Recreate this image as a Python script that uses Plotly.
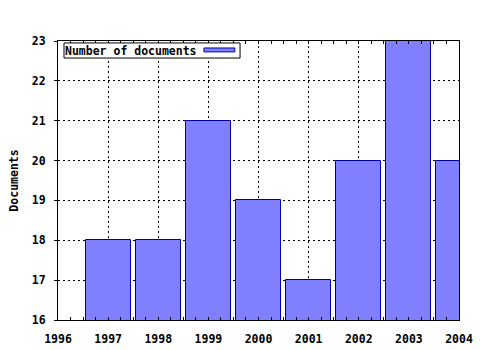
import plotly.graph_objects as go

years = [1997, 1998, 1999, 2000, 2001, 2002, 2003, 2004]
documents = [18, 18, 21, 19, 17, 20, 23, 20]
series_name = "Number of documents"

FAM = "DejaVu Sans Mono"
bold = dict(family=FAM, size=11.5, color="black", weight="bold")

fig = go.Figure()
fig.add_trace(go.Bar(
    x=years, y=documents, width=0.9,
    name=series_name,
    marker=dict(color="#8080ff", line=dict(color="#0000a0", width=1)),
    showlegend=False,
))

grid = dict(showgrid=True, gridcolor="black", griddash="2px,3px", gridwidth=1,
            zeroline=False, showline=True, linecolor="black", linewidth=1,
            tickcolor="black", tickfont=bold, automargin=False)

fig.update_xaxes(range=[1996, 2004], dtick=1, tick0=1996, tickformat="d",
                 mirror="ticks", ticks="inside", ticklen=3,
                 ticklabelstandoff=8,
                 minor=dict(ticks="inside", dtick=0.25, ticklen=3, tickcolor="black", showgrid=False),
                 **grid)
fig.update_yaxes(range=[16, 23], dtick=1,
                 mirror=True, ticks="outside", ticklen=3,
                 ticklabelstandoff=6,
                 title=dict(text="Documents", font=bold, standoff=10),
                 **grid)

# legend box (text then sample, gnuplot style)
fig.add_shape(type="rect", xref="paper", yref="paper", layer="above",
              x0=0.015, x1=0.454, y0=0.939, y1=0.993,
              fillcolor="white", line=dict(color="black", width=1))
fig.add_shape(type="rect", xref="paper", yref="paper", layer="above",
              x0=0.364, x1=0.441, y0=0.961, y1=0.975,
              fillcolor="#8080ff", line=dict(color="#0000a0", width=1))
fig.add_annotation(
    xref="paper", yref="paper", x=0.017, y=0.991, xanchor="left", yanchor="top",
    text=series_name, showarrow=False, align="left", font=bold,
    width=140, height=13, borderpad=0, borderwidth=0,
    bgcolor="rgba(0,0,0,0)",
)

fig.update_layout(
    width=480, height=350,
    margin=dict(l=58, r=21, t=41, b=30, autoexpand=False),
    paper_bgcolor="white", plot_bgcolor="white",
    font=bold,
    showlegend=False,
    bargap=0,
)

fig.write_html("out.html")
